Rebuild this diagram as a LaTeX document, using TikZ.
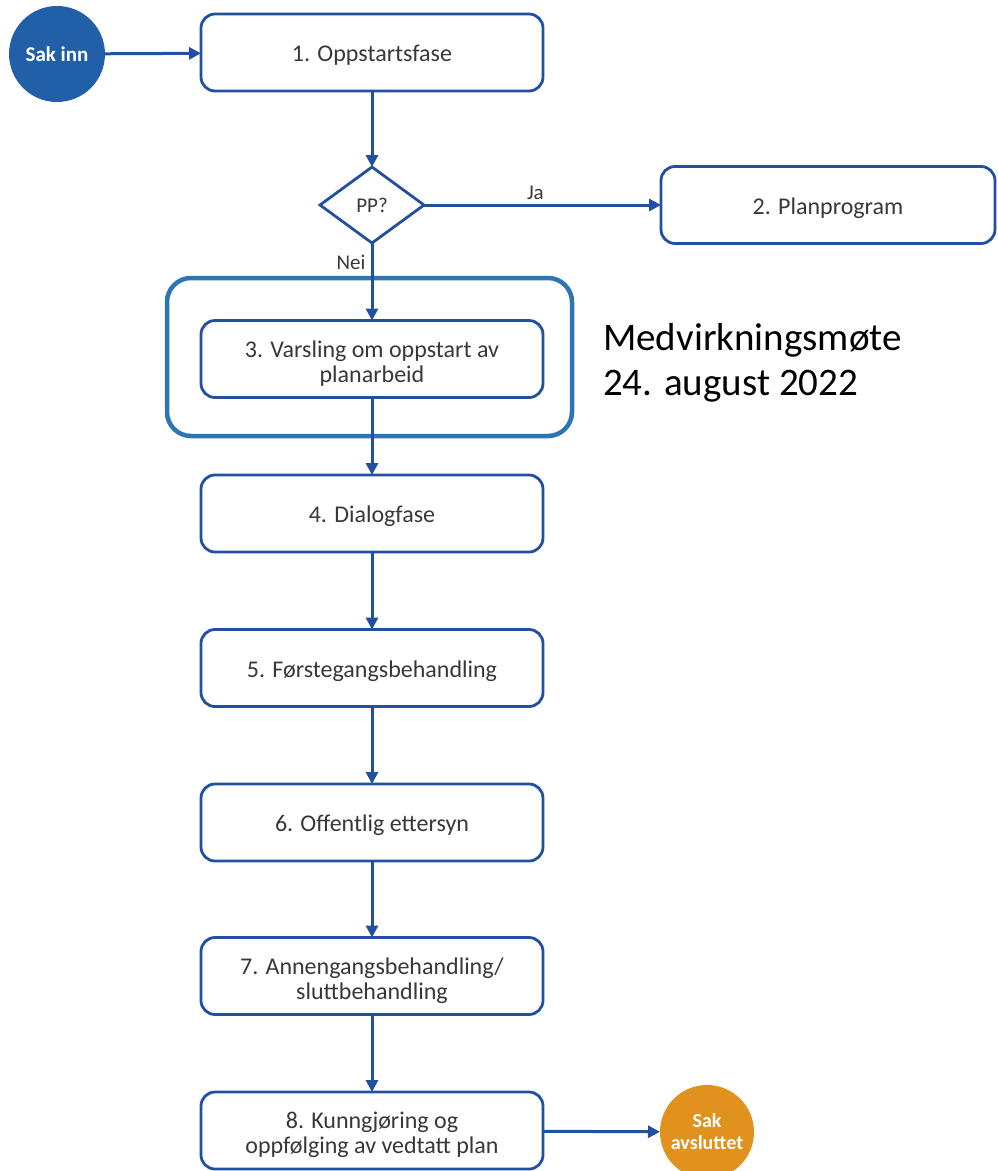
\documentclass[tikz,border=0pt]{standalone}
\usepackage{fontspec}
\setmainfont{Carlito}
\usetikzlibrary{shapes.geometric,arrows.meta}
\definecolor{boxblue}{HTML}{2150A0}
\definecolor{circblue}{HTML}{2160A8}
\definecolor{grpblue}{HTML}{2E75B6}
\definecolor{endorange}{HTML}{E0911E}
\definecolor{txt}{HTML}{383838}
\tikzset{
  stepbox/.style={draw=boxblue, line width=2.8pt, rounded corners=14pt, fill=white,
    minimum width=342pt, minimum height=77pt, inner sep=0pt, outer sep=0pt,
    align=center, text=txt, font=\fontsize{24}{25}\selectfont,
    text height=18pt, text depth=0pt},
  twoline/.style={text height=46pt, text depth=0pt},
  flow/.style={draw=boxblue, line width=3pt, -{Triangle[length=12pt,width=12pt]}},
  lbl/.style={text=txt, font=\fontsize{21}{24}\selectfont, inner sep=0pt},
  circ/.style={circle, inner sep=0pt, outer sep=0pt, text=white, align=center,
    font=\bfseries\fontsize{21}{22}\selectfont}
}
\begin{document}
\begin{tikzpicture}[x=1pt,y=-1pt]
\useasboundingbox (0,0) rectangle (997,1171);
% group frame
\node[draw=grpblue, line width=4.5pt, rounded corners=24pt, minimum width=405pt,
  minimum height=158pt, inner sep=0pt, outer sep=0pt] (grp) at (369.5,357) {};
\node[circ, fill=circblue, minimum size=96pt] (start) at (57,54) {Sak inn};
\node[stepbox] (b1) at (372,52.5) {1. Oppstartsfase};
\node[draw=boxblue, line width=2.8pt, diamond, minimum width=104pt, minimum height=76pt,
  inner sep=0pt, outer sep=0pt, fill=white, text=txt, font=\fontsize{21}{24}\selectfont] (pp) at (372,205) {PP?};
\node[stepbox, minimum width=334pt] (b2) at (828,205) {2. Planprogram};
\node[stepbox, twoline] (b3) at (372,359) {3. Varsling om oppstart av\\planarbeid};
\node[stepbox] (b4) at (372,513.5) {4. Dialogfase};
\node[stepbox] (b5) at (372,668) {5. Førstegangsbehandling};
\node[stepbox] (b6) at (372,822.5) {6. Offentlig ettersyn};
\node[stepbox, twoline] (b7) at (372,976) {7. Annengangsbehandling/\\sluttbehandling};
\node[stepbox, twoline] (b8) at (372,1130.5) {8. Kunngjøring og\\oppfølging av vedtatt plan};
\node[circ, fill=endorange, minimum size=94pt, font=\bfseries\fontsize{20}{22}\selectfont] (end) at (707,1132) {Sak\\avsluttet};
\node[anchor=west, align=left, inner sep=0pt, font=\fontsize{39}{45}\selectfont] (med) at (603,363) {Medvirkningsmøte\\24. august 2022};
% connectors
\draw[flow] (start) -- (b1);
\draw[flow] (b1) -- (pp);
\draw[flow] (pp) -- node[lbl, pos=0.47, above=4pt] (ja) {Ja} (b2);
\draw[flow] (pp) -- node[lbl, pos=0.25, left=5pt] (nei) {Nei} (b3);
\draw[flow] (b3) -- (b4);
\draw[flow] (b4) -- (b5);
\draw[flow] (b5) -- (b6);
\draw[flow] (b6) -- (b7);
\draw[flow] (b7) -- (b8);
\draw[flow] (b8) -- (end);
\end{tikzpicture}
\end{document}
